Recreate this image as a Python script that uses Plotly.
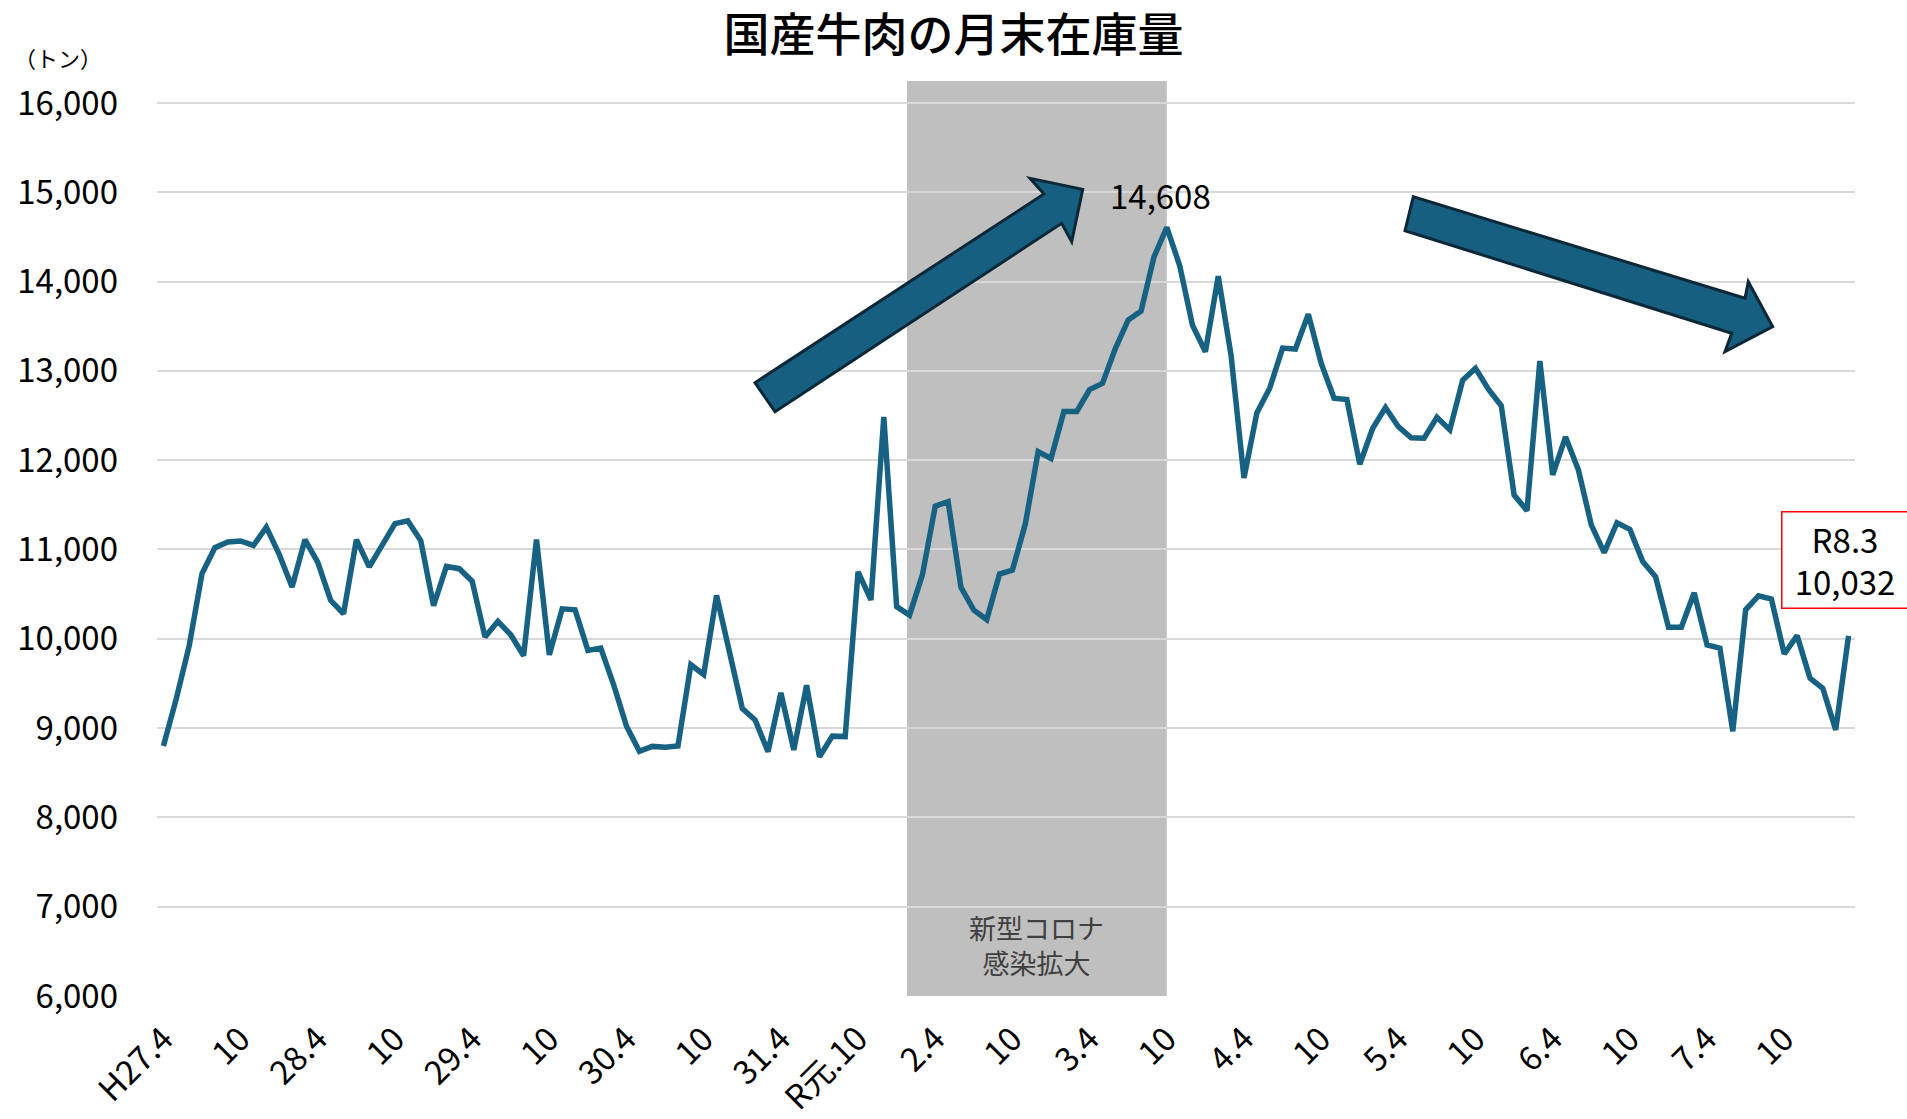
import plotly.graph_objects as go

# ---- data (monthly end-of-month stock of domestic beef, tonnes; H27.4 .. R8.3) ----
stock = [
    8800, 9330, 9920, 10730, 11020, 11085, 11095, 11045, 11250, 10945, 10580, 11110,
    10855, 10430, 10280, 11110, 10805, 11055, 11290, 11320, 11100, 10370, 10810, 10785,
    10645, 10020, 10195, 10045, 9810, 11110, 9820, 10335, 10325, 9870, 9895, 9485,
    9020, 8740, 8795, 8785, 8800, 9710, 9600, 10485, 9850, 9220, 9090, 8735,
    9395, 8755, 9480, 8680, 8910, 8905, 10750, 10435, 12485, 10360, 10265, 10715,
    11485, 11535, 10575, 10320, 10215, 10725, 10770, 11285, 12095, 12020, 12545, 12545,
    12790, 12860, 13250, 13570, 13670, 14275, 14608, 14180, 13510, 13215, 14060, 13170,
    11800, 12530, 12805, 13255, 13245, 13635, 13085, 12695, 12680, 11955, 12355, 12590,
    12375, 12250, 12245, 12480, 12340, 12895, 13030, 12795, 12610, 11610, 11435, 13110,
    11835, 12260, 11890, 11275, 10965, 11300, 11225, 10865, 10695, 10130, 10130, 10515,
    9930, 9895, 8965, 10325, 10480, 10445, 9830, 10035, 9560, 9445, 8980, 10032,
]
month_index = list(range(len(stock)))

tick_labels = ["H27.4", "10", "28.4", "10", "29.4", "10", "30.4", "10", "31.4", "R元.10",
               "2.4", "10", "3.4", "10", "4.4", "10", "5.4", "10", "6.4", "10", "7.4", "10"]
tick_positions = month_index[::6][:len(tick_labels)]

y_ticks = [6000, 7000, 8000, 9000, 10000, 11000, 12000, 13000, 14000, 15000, 16000]

covid_start = 57.8   # category position where the shaded period begins
covid_end = 78.0     # ...and ends (R3.10 peak)
peak_index = 78
last_index = len(stock) - 1

# ---- layout constants ----
W, H = 1907, 1119
ML, MR, MT, MB = 157, 52, 81, 123
PW, PH = W - ML - MR, H - MT - MB
LINE = "#176183"
ARROW_FILL = "#175f80"
ARROW_EDGE = "#0c2838"
FONT = "Noto Sans CJK JP"


def to_paper(pts):
    return [((x - ML) / PW, (H - MB - y) / PH) for x, y in pts]


def path_of(pts):
    p = to_paper(pts)
    return "M " + " L ".join(f"{x:.5f},{y:.5f}" for x, y in p) + " Z"


# block arrow outlines (pixel geometry of the decorative arrows)
arrow_up = [(755, 382.7), (1044, 194), (1030, 178.3), (1082.7, 189.3),
            (1071.7, 241.7), (1061.7, 223.3), (775, 411.7)]
arrow_down = [(1413.3, 196.7), (1745, 298.3), (1748.3, 281.7), (1772.7, 326.7),
              (1725, 351.7), (1731.7, 333.3), (1405, 230.7)]

fig = go.Figure()
fig.add_trace(go.Scatter(
    x=month_index, y=stock, mode="lines",
    line=dict(color=LINE, width=5.5, shape="linear"),
    hoverinfo="skip", showlegend=False,
))

shapes = [
    dict(type="rect", xref="x", yref="y", x0=covid_start, x1=covid_end,
         y0=6000, y1=16246, fillcolor="#bfbfbf", line=dict(width=0), layer="below"),
    dict(type="path", xref="paper", yref="paper", path=path_of(arrow_up),
         fillcolor=ARROW_FILL, line=dict(color=ARROW_EDGE, width=3), layer="above"),
    dict(type="path", xref="paper", yref="paper", path=path_of(arrow_down),
         fillcolor=ARROW_FILL, line=dict(color=ARROW_EDGE, width=3), layer="above"),
]

annotations = [
    dict(x=peak_index, y=stock[peak_index], xref="x", yref="y", text="14,608",
         showarrow=False, xshift=-6, yshift=32,
         font=dict(family=FONT, size=33, color="#000000")),
    dict(x=last_index, y=stock[last_index], xref="x", yref="y",
         text="R8.3<br>10,032", showarrow=False, xshift=-4, yshift=76,
         width=125, height=95, borderpad=0, align="center",
         bordercolor="#ff0000", borderwidth=1.5, bgcolor="#ffffff",
         font=dict(family=FONT, size=33, color="#000000")),
    dict(x=(covid_start + covid_end) / 2, y=6000, xref="x", yref="y",
         yanchor="bottom", text="新型コロナ<br>感染拡大", showarrow=False, yshift=12,
         font=dict(family=FONT, size=27, color="#404040")),
    dict(x=(12 - ML) / PW, y=(H - MB - 57) / PH, xref="paper", yref="paper",
         text="（トン）", showarrow=False, xanchor="left", yanchor="middle",
         font=dict(family=FONT, size=22, color="#000000")),
]

fig.update_layout(
    width=W, height=H,
    margin=dict(l=ML, r=MR, t=MT, b=MB, pad=0),
    paper_bgcolor="#ffffff", plot_bgcolor="#ffffff",
    font=dict(family=FONT, color="#000000"),
    title=dict(text="国産牛肉の月末在庫量", x=0.5, xref="container", xanchor="center",
               y=1 - 35 / H, yanchor="middle",
               font=dict(family=FONT, size=46, color="#000000", weight=500)),
    shapes=shapes, annotations=annotations,
    xaxis=dict(
        range=[-0.5, len(stock) - 0.5], tickmode="array",
        tickvals=tick_positions, ticktext=tick_labels, tickangle=-45,
        showgrid=False, zeroline=False, showline=False, ticks="",
        tickfont=dict(family=FONT, size=33, color="#000000"),
        ticklabelstandoff=16, automargin=False,
    ),
    yaxis=dict(
        range=[6000, 16246], tickmode="array", tickvals=y_ticks,
        tickformat=",d", showgrid=True, gridcolor="#d9d9d9", gridwidth=2,
        zeroline=False, showline=False, ticks="",
        tickfont=dict(family=FONT, size=33, color="#000000"),
        ticklabelstandoff=38, automargin=False,
    ),
)

fig.write_html("out.html", config={"displayModeBar": False},
               post_script="document.body.style.margin='0';")
